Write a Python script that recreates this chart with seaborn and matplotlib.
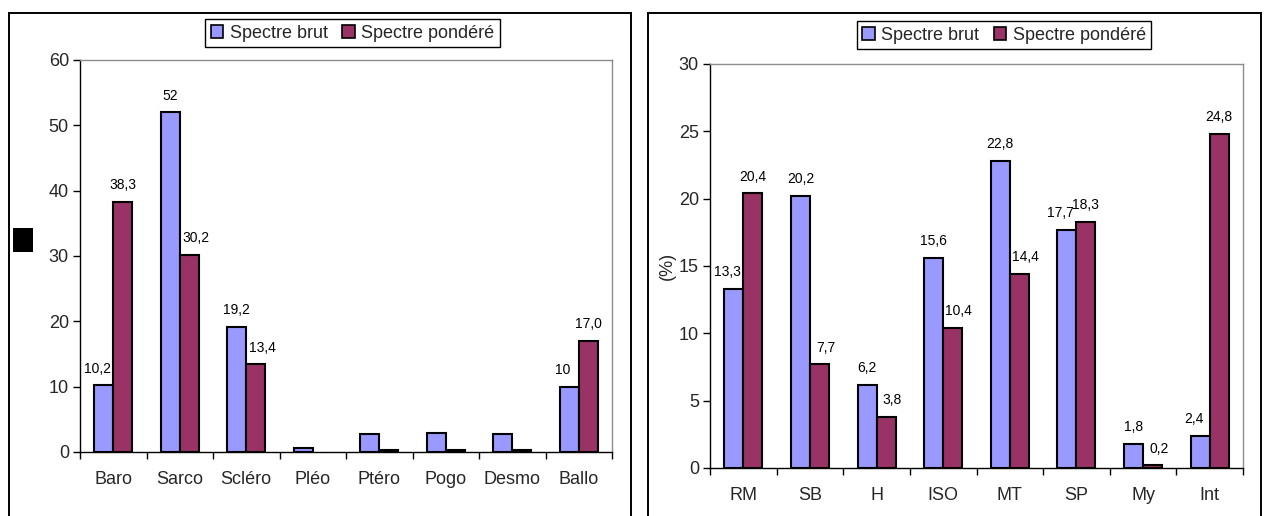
import numpy as np
import pandas as pd
import matplotlib
matplotlib.use("Agg")
import matplotlib.pyplot as plt
from matplotlib.patches import Patch, Rectangle
import seaborn as sns

# Biological spectra: raw vs. weighted (left: dispersal types, right: chorology)
series = ["Spectre brut", "Spectre pondéré"]
colors = ["#9999FF", "#993366"]

cats_left = ["Baro", "Sarco", "Scléro", "Pléo", "Ptéro", "Pogo", "Desmo", "Ballo"]
brut_left = [10.2, 52, 19.2, 0.6, 2.7, 2.9, 2.7, 10]
pond_left = [38.3, 30.2, 13.4, 0.0, 0.3, 0.3, 0.3, 17.0]
labelled_left = ["Baro", "Sarco", "Scléro", "Ballo"]

cats_right = ["RM", "SB", "H", "ISO", "MT", "SP", "My", "Int"]
brut_right = [13.3, 20.2, 6.2, 15.6, 22.8, 17.7, 1.8, 2.4]
pond_right = [20.4, 7.7, 3.8, 10.4, 14.4, 18.3, 0.2, 24.8]
labelled_right = cats_right

sns.set_theme(style="white")
plt.rcParams["font.family"] = ["Liberation Sans", "DejaVu Sans"]

W, H = 1264, 516
fig = plt.figure(figsize=(W / 100, H / 100), dpi=100)
fig.patch.set_facecolor("white")


def fig_rect(x0, y0, x1, y1):
    """Pixel box (top-left origin) -> figure fraction [left, bottom, width, height]."""
    return [x0 / W, 1 - y1 / H, (x1 - x0) / W, (y1 - y0) / H]


def fmt_comma(v, spec):
    return format(v, spec).replace(".", ",")


def draw_panel(ax, cats, brut, pond, ymax, ystep, labelled, specs, legend_xy, ylabel=None):
    df = pd.DataFrame({
        "cat": cats * 2,
        "val": list(brut) + list(pond),
        "serie": [series[0]] * len(cats) + [series[1]] * len(cats),
    })
    sns.barplot(data=df, x="cat", y="val", hue="serie", order=cats, hue_order=series,
                palette=colors, edgecolor="black", linewidth=1.5, width=0.57,
                saturation=1, legend=False, ax=ax)

    vals = [brut, pond]
    for j, cont in enumerate(ax.containers):
        for k, bar in enumerate(cont):
            v = vals[j][k]
            if v == 0:
                bar.set_linewidth(0)
            if cats[k] not in labelled:
                continue
            other = vals[1 - j][k]
            dx = 0
            if other > v:
                dx = -4.5 if j == 0 else 4.5
            ax.annotate(fmt_comma(v, specs[j]),
                        (bar.get_x() + bar.get_width() / 2, bar.get_height()),
                        xytext=(dx, 7), textcoords="offset points",
                        ha="center", va="bottom", fontsize=10, color="black")

    ax.set_xlim(-0.5, len(cats) - 0.5)
    ax.set_ylim(0, ymax)
    ax.set_yticks(np.arange(0, ymax + 1, ystep))
    ax.set_xticks(np.arange(-0.5, len(cats), 1), minor=True)
    ax.tick_params(axis="x", which="major", length=0, pad=14, labelsize=13, bottom=True)
    ax.tick_params(axis="x", which="minor", length=5, width=1, color="black",
                   direction="out", bottom=True)
    ax.tick_params(axis="y", which="major", length=5, width=1, color="black",
                   direction="out", pad=3, labelsize=13, left=True)
    ax.set_xlabel("")
    if ylabel:
        ax.set_ylabel(ylabel, fontsize=13, labelpad=2)
    else:
        ax.set_ylabel("")
    for side in ("left", "bottom"):
        ax.spines[side].set_color("black")
        ax.spines[side].set_linewidth(1.0)
    for side in ("top", "right"):
        ax.spines[side].set_color("#8c8c8c")
        ax.spines[side].set_linewidth(1.0)

    handles = [Patch(facecolor=c, edgecolor="black", linewidth=1.2) for c in colors]
    ax.legend(handles, series, loc="center", bbox_to_anchor=legend_xy,
              bbox_transform=fig.transFigure, ncol=2, frameon=True, fancybox=False,
              edgecolor="black", framealpha=1, fontsize=13, handlelength=0.7,
              handleheight=0.7, handletextpad=0.35, columnspacing=0.8,
              borderpad=0.3, borderaxespad=0)


# Panel frames
for x0, x1 in [(9, 631), (648, 1261)]:
    fig.patches.append(Rectangle((x0 / W, -0.05), (x1 - x0) / W, 1.05 - 13 / H,
                                 transform=fig.transFigure, fill=False,
                                 edgecolor="black", linewidth=1.4))

# Filled marker beside the left axis
fig.patches.append(Rectangle((13 / W, 1 - 252 / H), 20 / W, 24 / H,
                             transform=fig.transFigure, facecolor="black",
                             edgecolor="none"))

ax_l = fig.add_axes(fig_rect(80, 60, 612, 452))
draw_panel(ax_l, cats_left, brut_left, pond_left, 60, 10, labelled_left,
           ("g", ".1f"), (352.5 / W, 1 - 33 / H))

ax_r = fig.add_axes(fig_rect(710, 64, 1243, 468))
draw_panel(ax_r, cats_right, brut_right, pond_right, 30, 5, labelled_right,
           (".1f", ".1f"), (1004 / W, 1 - 35 / H), ylabel="(%)")

fig.savefig("out.png", dpi=100, facecolor="white")
